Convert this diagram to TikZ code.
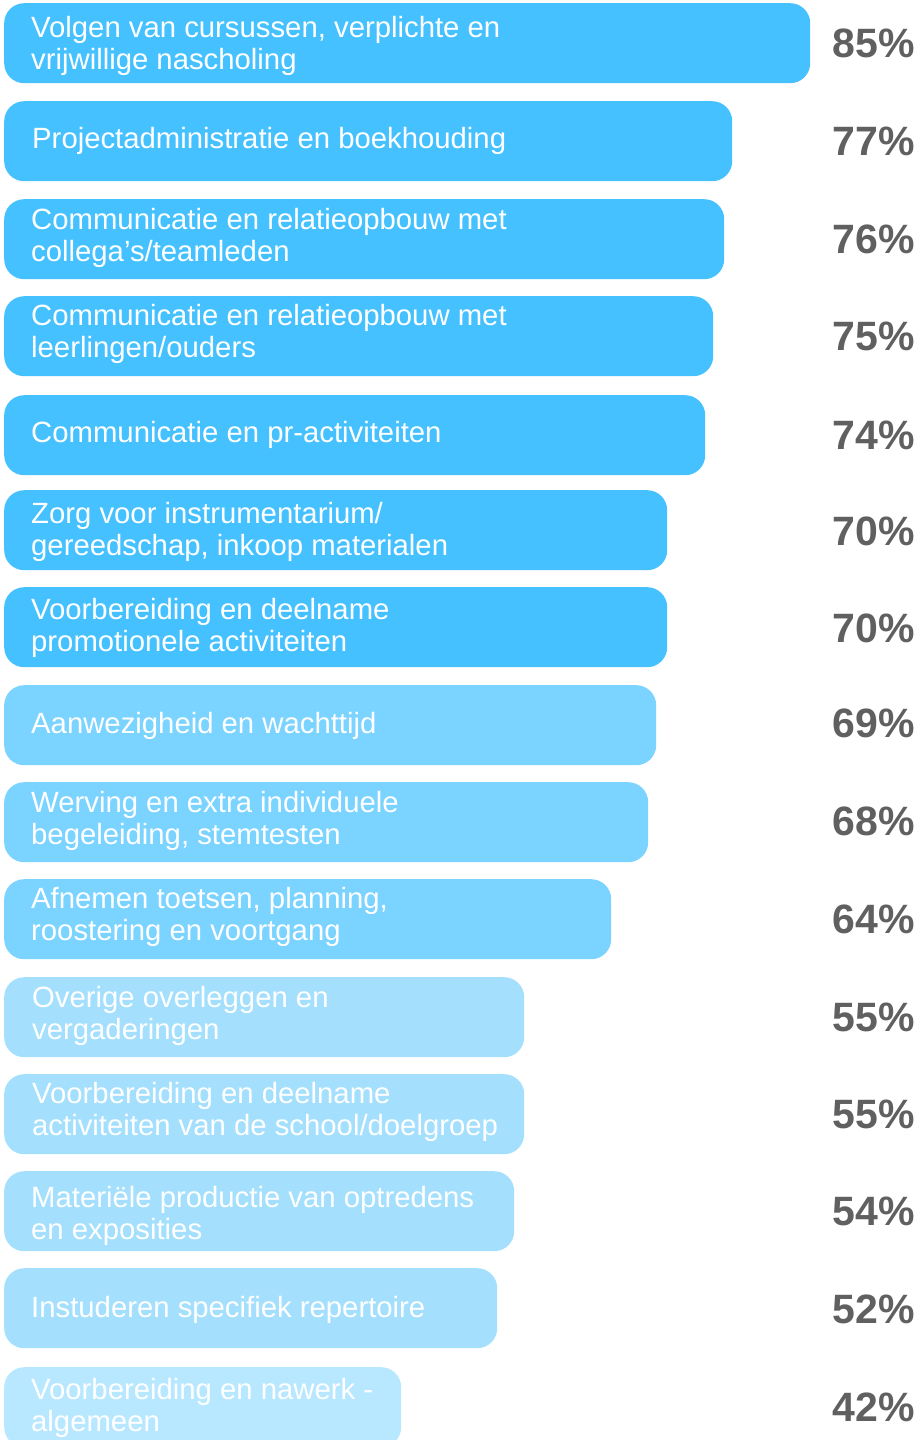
\documentclass[tikz,border=0pt]{standalone}
\usepackage{fontspec}
\setmainfont{Liberation Sans}
\definecolor{barA}{RGB}{69,193,255}
\definecolor{barB}{RGB}{123,211,255}
\definecolor{barC}{RGB}{164,224,253}
\definecolor{barD}{RGB}{184,232,255}
\definecolor{pctgray}{RGB}{96,96,96}
\begin{document}
\begin{tikzpicture}[x=1pt,y=-1pt,
  bar/.style={rectangle, rounded corners=20pt, inner sep=0pt, minimum height=80pt, anchor=north west, draw=none},
  lbl/.style={anchor=base west, inner sep=0pt, text=white, font=\fontsize{29.3}{32}\selectfont},
  pct/.style={anchor=base east, inner sep=0pt, text=pctgray, font=\fontsize{41}{46}\selectfont\bfseries}]
\useasboundingbox (0,0) rectangle (918,1440);
\clip (0,0) rectangle (918,1440);
% bars
\node[bar, fill=barA, minimum width=806pt] (b1) at (4,3) {};
\node[bar, fill=barA, minimum width=728pt] (b2) at (4,101) {};
\node[bar, fill=barA, minimum width=720pt] (b3) at (4,199) {};
\node[bar, fill=barA, minimum width=709pt] (b4) at (4,296) {};
\node[bar, fill=barA, minimum width=701pt] (b5) at (4,395) {};
\node[bar, fill=barA, minimum width=663pt] (b6) at (4,490) {};
\node[bar, fill=barA, minimum width=663pt] (b7) at (4,587) {};
\node[bar, fill=barB, minimum width=652pt] (b8) at (4,685) {};
\node[bar, fill=barB, minimum width=644pt] (b9) at (4,782) {};
\node[bar, fill=barB, minimum width=607pt] (b10) at (4,879) {};
\node[bar, fill=barC, minimum width=520pt] (b11) at (4,977) {};
\node[bar, fill=barC, minimum width=520pt] (b12) at (4,1074) {};
\node[bar, fill=barC, minimum width=510pt] (b13) at (4,1171) {};
\node[bar, fill=barC, minimum width=493pt] (b14) at (4,1268) {};
\node[bar, fill=barD, minimum width=397pt] (b15) at (4,1367) {};
% labels
\node[lbl] (t1a) at (31,37) {Volgen van cursussen, verplichte en};
\node[lbl] (t1b) at (31,69) {vrijwillige nascholing};
\node[lbl] (t2) at (32,148) {Projectadministratie en boekhouding};
\node[lbl] (t3a) at (31,229) {Communicatie en relatieopbouw met};
\node[lbl] (t3b) at (31,261) {collega’s/teamleden};
\node[lbl] (t4a) at (31,325) {Communicatie en relatieopbouw met};
\node[lbl] (t4b) at (31,357) {leerlingen/ouders};
\node[lbl] (t5) at (31,442) {Communicatie en pr-activiteiten};
\node[lbl] (t6a) at (31,523) {Zorg voor instrumentarium/};
\node[lbl] (t6b) at (31,555) {gereedschap, inkoop materialen};
\node[lbl] (t7a) at (31,619) {Voorbereiding en deelname};
\node[lbl] (t7b) at (31,651) {promotionele activiteiten};
\node[lbl] (t8) at (31,733) {Aanwezigheid en wachttijd};
\node[lbl] (t9a) at (31,812) {Werving en extra individuele};
\node[lbl] (t9b) at (31,844) {begeleiding, stemtesten};
\node[lbl] (t10a) at (31,908) {Afnemen toetsen, planning,};
\node[lbl] (t10b) at (31,940) {roostering en voortgang};
\node[lbl] (t11a) at (32,1007) {Overige overleggen en};
\node[lbl] (t11b) at (32,1039) {vergaderingen};
\node[lbl] (t12a) at (32,1103) {Voorbereiding en deelname};
\node[lbl] (t12b) at (32,1135) {activiteiten van de school/doelgroep};
\node[lbl] (t13a) at (31,1207) {Materiële productie van optredens};
\node[lbl] (t13b) at (31,1239) {en exposities};
\node[lbl] (t14) at (31,1317) {Instuderen specifiek repertoire};
\node[lbl] (t15a) at (31,1399) {Voorbereiding en nawerk -};
\node[lbl] (t15b) at (31,1431) {algemeen};
% percentages
\node[pct] (p1) at (915,57) {85\%};
\node[pct] (p2) at (915,155) {77\%};
\node[pct] (p3) at (915,253) {76\%};
\node[pct] (p4) at (915,350) {75\%};
\node[pct] (p5) at (915,449) {74\%};
\node[pct] (p6) at (915,545) {70\%};
\node[pct] (p7) at (915,642) {70\%};
\node[pct] (p8) at (915,737) {69\%};
\node[pct] (p9) at (915,835) {68\%};
\node[pct] (p10) at (915,933) {64\%};
\node[pct] (p11) at (915,1031) {55\%};
\node[pct] (p12) at (915,1128) {55\%};
\node[pct] (p13) at (915,1225) {54\%};
\node[pct] (p14) at (915,1323) {52\%};
\node[pct] (p15) at (915,1421) {42\%};
\end{tikzpicture}
\end{document}
